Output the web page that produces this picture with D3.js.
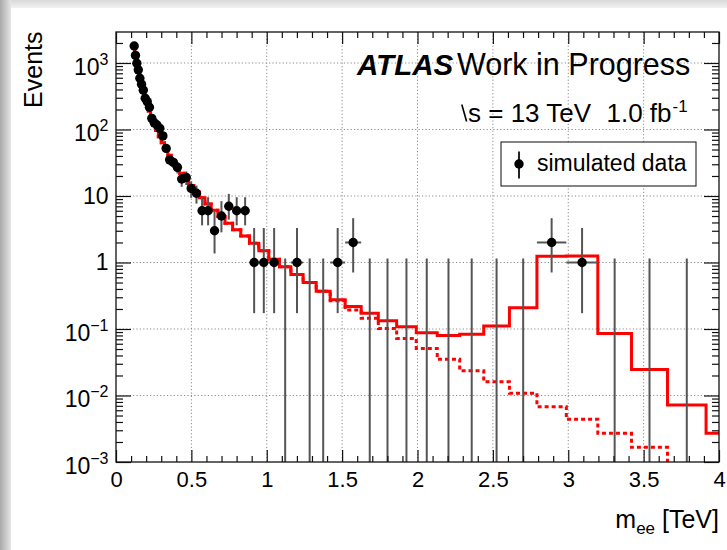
<!DOCTYPE html>
<html>
<head>
<meta charset="utf-8">
<script src="https://cdn.jsdelivr.net/npm/d3@7"></script>
<style>
  html, body { margin: 0; padding: 0; background: #fff; }
  svg { display: block; font-family: "Liberation Sans", Arial, Helvetica, sans-serif; }
</style>
</head>
<body>
<svg id="chart" width="727" height="550"></svg>
<script>
// Dielectron invariant-mass bins (TeV), logarithmic widths
const binEdges = [
  0.1167, 0.1248, 0.1335, 0.1429, 0.1528, 0.1635, 0.1750, 0.1872, 0.2003, 0.2143,
  0.2293, 0.2453, 0.2624, 0.2808, 0.3004, 0.3214, 0.3438, 0.3679, 0.3936, 0.4211,
  0.4505, 0.4820, 0.5157, 0.5518, 0.5903, 0.6316, 0.6758, 0.7230, 0.7735, 0.8276,
  0.8854, 0.9473, 1.0135, 1.0843, 1.1601, 1.2412, 1.3280, 1.4208, 1.5201, 1.6264,
  1.7401, 1.8617, 1.9918, 2.1310, 2.2799, 2.4393, 2.6098, 2.7922, 2.9873, 3.1961,
  3.4195, 3.6585, 3.9142, 4.1878
];

// Simulated data: events per bin
const dataCounts = [
  1800, 1300, 990, 790, 590, 480, 390, 295, 262, 216,
  147, 126, 117, 104, 80, 52, 35, 32, 27, 18,
  19, 13, 11, 6, 6, 3, 5, 7, 6, 6,
  1, 1, 1, 0, 1, 0, 0, 1, 2, 0,
  0, 0, 0, 0, 0, 0, 0, 2, 1, 0,
  0, 0, 0
];

// Drell-Yan background expectation per bin (dotted line)
const dyBackground = [
  1700, 1320, 1030, 800, 620, 490, 385, 300, 240, 190,
  150, 120, 97, 78, 63, 51, 41, 33.5, 27, 22,
  17.8, 14.4, 11.6, 9.4, 7.6, 6.1, 4.9, 3.9, 3.1, 2.5,
  1.95, 1.5, 1.12, 0.86, 0.66, 0.5, 0.37, 0.265, 0.193, 0.145,
  0.102, 0.072, 0.051, 0.035, 0.0236, 0.0161, 0.0108, 0.0068, 0.0044, 0.0027,
  0.00166, 0.0007, 0.0003
];

// Resonance signal expectation per bin (added on top of the background, solid line)
const zprimeSignal = [
  0, 0, 0, 0, 0, 0, 0, 0, 0, 0,
  0, 0, 0, 0, 0, 0, 0, 0, 0, 0,
  0, 0, 0, 0, 0, 0, 0, 0, 0, 0,
  0, 0, 0, 0, 0, 0, 0, 0.01, 0.024, 0.027,
  0.031, 0.036, 0.037, 0.045, 0.060, 0.095, 0.198, 1.24, 1.25, 0.083,
  0.023, 0.0065, 0.0024
];

const xTickValues = [0, 0.5, 1, 1.5, 2, 2.5, 3, 3.5, 4];
const xTickLabels = ["0", "0.5", "1", "1.5", "2", "2.5", "3", "3.5", "4"];
const yTickExponents = [-3, -2, -1, 0, 1, 2, 3];

// Poisson 68% intervals for small counts
const poissonLow  = [0, 0.173, 0.708, 1.367, 2.086, 2.840, 3.620, 4.419, 5.232, 6.057, 6.891];
const poissonHigh = [1.148, 3.300, 4.638, 5.918, 7.163, 8.382, 9.584, 10.77, 11.95, 13.11, 14.27];

const svg = d3.select("#chart");
const W = 727, H = 550;
const frame = { left: 116, right: 719, top: 32, bottom: 462 };

const x = d3.scaleLinear().domain([0, 4]).range([frame.left, frame.right]);
const y = d3.scaleLog().domain([1e-3, 2925]).range([frame.bottom, frame.top]);

// ---- canvas with soft edge shading ----
const defs = svg.append("defs");
const gTop = defs.append("linearGradient").attr("id", "shadeTop").attr("x1", 0).attr("y1", 0).attr("x2", 0).attr("y2", 1);
gTop.append("stop").attr("offset", "0%").attr("stop-color", "#d9d9d9");
gTop.append("stop").attr("offset", "100%").attr("stop-color", "#f1f1f1");
const gLeft = defs.append("linearGradient").attr("id", "shadeLeft").attr("x1", 0).attr("y1", 0).attr("x2", 1).attr("y2", 0);
gLeft.append("stop").attr("offset", "0%").attr("stop-color", "#a9a9a9");
gLeft.append("stop").attr("offset", "100%").attr("stop-color", "#e6e6e6");

svg.append("rect").attr("width", W).attr("height", H).attr("fill", "#fff");
svg.append("rect").attr("x", 0).attr("y", 0).attr("width", W).attr("height", 8).attr("fill", "url(#shadeTop)");
svg.append("rect").attr("x", 0).attr("y", 0).attr("width", 11).attr("height", H).attr("fill", "url(#shadeLeft)");

defs.append("clipPath").attr("id", "plotClip")
  .append("rect")
  .attr("x", frame.left).attr("y", frame.top)
  .attr("width", frame.right - frame.left).attr("height", frame.bottom - frame.top);

// ---- grid ----
const grid = svg.append("g").attr("stroke", "#8c8c8c").attr("stroke-width", 1).attr("stroke-dasharray", "1.2,2.2");
grid.selectAll("line.gx").data(xTickValues.slice(1, -1)).join("line")
  .attr("x1", d => x(d)).attr("x2", d => x(d))
  .attr("y1", frame.top).attr("y2", frame.bottom);
grid.selectAll("line.gy").data(yTickExponents.slice(1).map(e => Math.pow(10, e))).join("line")
  .attr("y1", d => y(d)).attr("y2", d => y(d))
  .attr("x1", frame.left).attr("x2", frame.right);

// ---- histograms ----
const plot = svg.append("g").attr("clip-path", "url(#plotClip)");
const stepLine = d3.line().x(d => x(d[0])).y(d => y(Math.max(d[1], 1e-7)));
function stepPoints(values) {
  const pts = [];
  values.forEach((v, i) => { pts.push([binEdges[i], v], [binEdges[i + 1], v]); });
  return pts;
}
const totalPrediction = dyBackground.map((b, i) => b + zprimeSignal[i]);

plot.append("path")
  .attr("d", stepLine(stepPoints(dyBackground)))
  .attr("fill", "none").attr("stroke", "#ff0000").attr("stroke-width", 3)
  .attr("stroke-dasharray", "4,3");
plot.append("path")
  .attr("d", stepLine(stepPoints(totalPrediction)))
  .attr("fill", "none").attr("stroke", "#ff0000").attr("stroke-width", 3)
  .attr("stroke-linejoin", "miter");

// ---- data points with Poisson error bars ----
const points = dataCounts.map((n, i) => {
  const lo = n <= 10 ? poissonLow[n] : n - Math.sqrt(n);
  const hi = n <= 10 ? poissonHigh[n] : n + Math.sqrt(n);
  return { n, lo, hi, x0: binEdges[i], x1: binEdges[i + 1], xc: (binEdges[i] + binEdges[i + 1]) / 2 };
}).filter(p => p.xc < 4);

const errs = plot.append("g").attr("stroke", "#555").attr("stroke-width", 2);
errs.selectAll("line.ev").data(points).join("line")
  .attr("x1", d => x(d.xc)).attr("x2", d => x(d.xc))
  .attr("y1", d => y(Math.max(d.lo, 1e-7))).attr("y2", d => y(d.hi));
errs.selectAll("line.eh").data(points.filter(p => p.n > 0)).join("line")
  .attr("x1", d => x(d.x0)).attr("x2", d => x(d.x1))
  .attr("y1", d => y(d.n)).attr("y2", d => y(d.n));
plot.append("g").selectAll("circle").data(points.filter(p => p.n > 0)).join("circle")
  .attr("cx", d => x(d.xc)).attr("cy", d => y(d.n)).attr("r", 4.7).attr("fill", "#000");

// ---- axes ----
const xMinor = d3.range(1, 40).map(i => i / 10).filter(v => Math.abs(v * 2 - Math.round(v * 2)) > 1e-6);
const yMinor = [];
yTickExponents.forEach(e => { for (let k = 2; k <= 9; k++) { const v = k * Math.pow(10, e); if (v < 2925) yMinor.push(v); } });

function styleAxis(g) {
  g.select(".domain").remove();
  g.selectAll(".tick line").attr("stroke", "#111").attr("stroke-width", 1.2);
}

svg.append("g").attr("transform", `translate(0,${frame.bottom})`)
  .call(d3.axisBottom(x).tickValues(xTickValues).tickSize(-12).tickPadding(9).tickFormat((d, i) => xTickLabels[i]))
  .call(styleAxis)
  .call(g => g.selectAll("text").attr("font-size", 22).attr("fill", "#000")
    .attr("font-family", "'Liberation Sans', Arial, sans-serif"));
svg.append("g").attr("transform", `translate(0,${frame.bottom})`)
  .call(d3.axisBottom(x).tickValues(xMinor).tickSize(-6).tickFormat(""))
  .call(styleAxis);
svg.append("g").attr("transform", `translate(0,${frame.top})`)
  .call(d3.axisTop(x).tickValues(xTickValues).tickSize(-12).tickFormat(""))
  .call(styleAxis);
svg.append("g").attr("transform", `translate(0,${frame.top})`)
  .call(d3.axisTop(x).tickValues(xMinor).tickSize(-6).tickFormat(""))
  .call(styleAxis);

const yMajor = yTickExponents.map(e => Math.pow(10, e));
svg.append("g").attr("transform", `translate(${frame.left},0)`)
  .call(d3.axisLeft(y).tickValues(yMajor).tickSize(-15).tickFormat(""))
  .call(styleAxis);
svg.append("g").attr("transform", `translate(${frame.left},0)`)
  .call(d3.axisLeft(y).tickValues(yMinor).tickSize(-7).tickFormat(""))
  .call(styleAxis);
svg.append("g").attr("transform", `translate(${frame.right},0)`)
  .call(d3.axisRight(y).tickValues(yMajor).tickSize(-15).tickFormat(""))
  .call(styleAxis);
svg.append("g").attr("transform", `translate(${frame.right},0)`)
  .call(d3.axisRight(y).tickValues(yMinor).tickSize(-7).tickFormat(""))
  .call(styleAxis);

// y tick labels: 10^n
const yLabels = svg.append("g").attr("font-size", 23).attr("fill", "#000").attr("text-anchor", "end");
yTickExponents.forEach(e => {
  const yy = y(Math.pow(10, e));
  const t = yLabels.append("text").attr("x", 108.5);
  if (e === 0) { t.attr("y", yy + 8).text("1"); }
  else if (e === 1) { t.attr("y", yy + 8).text("10"); }
  else {
    t.attr("y", yy + 12);
    t.append("tspan").text("10");
    t.append("tspan").attr("font-size", 16).attr("dy", -10).text(e < 0 ? "\u2212" + (-e) : String(e));
  }
});

// frame
svg.append("rect")
  .attr("x", frame.left).attr("y", frame.top)
  .attr("width", frame.right - frame.left).attr("height", frame.bottom - frame.top)
  .attr("fill", "none").attr("stroke", "#111").attr("stroke-width", 1.3);

// axis titles
svg.append("text")
  .attr("transform", "translate(41.5,31.5) rotate(-90)")
  .attr("text-anchor", "end").attr("font-size", 25).attr("fill", "#000")
  .text("Events");

const xt = svg.append("text").attr("x", 719).attr("y", 528).attr("text-anchor", "end")
  .attr("font-size", 25).attr("fill", "#000");
xt.append("tspan").text("m");
xt.append("tspan").attr("font-size", 17).attr("dy", 6).text("ee");
xt.append("tspan").attr("dy", -6).text(" [TeV]");

// ---- labels ----
svg.append("text").attr("x", 357).attr("y", 75).attr("font-size", 29.5)
  .attr("font-weight", "bold").attr("font-style", "italic").attr("fill", "#000").text("ATLAS");
svg.append("text").attr("x", 457).attr("y", 75).attr("font-size", 30.5).attr("fill", "#000")
  .text("Work in Progress");

svg.append("path").attr("d", "M461.8,104.5 L466.6,121.5")
  .attr("stroke", "#000").attr("stroke-width", 1.6).attr("fill", "none");
svg.append("text").attr("x", 468).attr("y", 121.5).attr("font-size", 26).attr("fill", "#000")
  .text("s = 13 TeV");
const lumi = svg.append("text").attr("x", 606.5).attr("y", 121.5).attr("font-size", 26).attr("fill", "#000");
lumi.append("tspan").text("1.0 fb");
lumi.append("tspan").attr("font-size", 17).attr("dy", -10).attr("dx", 1).text("-1");

// legend
const leg = svg.append("g");
leg.append("rect").attr("x", 501).attr("y", 142).attr("width", 195).attr("height", 44)
  .attr("fill", "#fff").attr("stroke", "#222").attr("stroke-width", 1.1);
leg.append("line").attr("x1", 519).attr("x2", 519).attr("y1", 151.5).attr("y2", 178.5)
  .attr("stroke", "#222").attr("stroke-width", 2);
leg.append("circle").attr("cx", 519).attr("cy", 164).attr("r", 4.7).attr("fill", "#000");
leg.append("text").attr("x", 537).attr("y", 170.5).attr("font-size", 23).attr("fill", "#000")
  .text("simulated data");
</script>
</body>
</html>
